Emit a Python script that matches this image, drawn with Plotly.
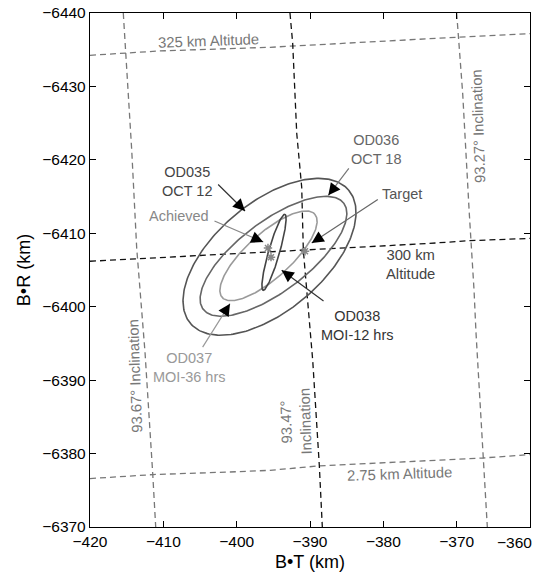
import numpy as np
import plotly.graph_objects as go

# ---- B-plane reference grid (km) ----
alt325_x = [-420, -410.5, -395.45, -376.36, -370.0, -360]
alt325_y = [-6434.24, -6434.83, -6435.33, -6436.4, -6436.7, -6437.2]

alt300_x = [-420, -395.45, -390.95, -374.05, -368.2, -360]
alt300_y = [-6406.19, -6407.45, -6407.7, -6408.6, -6409.0, -6409.3]

alt275_x = [-420, -416.32, -411.41, -400.91, -395.45, -388.91, -377.32, -366.41, -360]
alt275_y = [-6376.59, -6376.81, -6377.14, -6377.49, -6377.72, -6378.31, -6378.85, -6379.4, -6379.86]

inc9367_x = [-415.46, -415.09, -414.31, -413.63, -413.18, -412.5, -411.45, -411.04]
inc9367_y = [-6440, -6434.24, -6421.3, -6407.96, -6402.24, -6393.83, -6377.31, -6370]

inc9347_x = [-392.73, -392.36, -391.81, -391.13, -390.91, -390.45, -389.63, -388.73, -388.32]
inc9347_y = [-6440, -6435.87, -6423.62, -6416.26, -6407.68, -6402.64, -6392.7, -6378.4, -6370]

inc9327_x = [-370.0, -369.78, -369.18, -368.28, -368.05, -367.63, -367.36, -366.37, -365.82]
inc9327_y = [-6440, -6436.69, -6429.06, -6412.72, -6409.04, -6402.24, -6396.38, -6379.49, -6370]

# ---- orbit determination solutions: centre, semi-axes (km), orientation (deg) ----
od_names = ["OD035", "OD036", "OD037", "OD038"]
od_cx = [-395.52, -394.98, -395.66, -394.91]
od_cy = [-6406.8, -6406.87, -6406.93, -6407.41]
od_a = [14.1, 12.0, 8.49, 5.38]
od_b = [7.38, 4.77, 3.04, 0.75]
od_angle = [-40.0, -37.0, -42.0, -74.0]
od_color = ["#555555", "#666666", "#9a9a9a", "#444444"]

target_x, target_y = [-390.68], [-6407.55]
achieved_x = [-395.73, -395.32]
achieved_y = [-6407.99, -6406.75]

x_ticks = [-420, -410, -400, -390, -380, -370, -360]
y_ticks = [-6440, -6430, -6420, -6410, -6400, -6390, -6380, -6370]

fig = go.Figure()

def grid_line(x, y, color):
    fig.add_trace(go.Scatter(x=x, y=y, mode="lines", hoverinfo="skip",
                             line=dict(color=color, width=1.3, dash="6px,4px")))

grid_line(alt325_x, alt325_y, "#777777")
grid_line(alt275_x, alt275_y, "#777777")
grid_line(inc9367_x, inc9367_y, "#777777")
grid_line(inc9327_x, inc9327_y, "#777777")
grid_line(alt300_x, alt300_y, "#111111")
grid_line(inc9347_x, inc9347_y, "#111111")

t = np.linspace(0, 2 * np.pi, 240)
for name, cx, cy, a, b, ang, col in zip(od_names, od_cx, od_cy, od_a, od_b, od_angle, od_color):
    p = np.radians(ang)
    ex = cx + a * np.cos(t) * np.cos(p) - b * np.sin(t) * np.sin(p)
    ey = cy + a * np.cos(t) * np.sin(p) + b * np.sin(t) * np.cos(p)
    fig.add_trace(go.Scatter(x=ex, y=ey, mode="lines", name=name,
                             line=dict(color=col, width=1.6)))

star = dict(symbol="asterisk-open", size=7, color="#888888",
            line=dict(color="#888888", width=1.5))
fig.add_trace(go.Scatter(x=achieved_x, y=achieved_y, mode="markers", name="Achieved", marker=star))
fig.add_trace(go.Scatter(x=target_x, y=target_y, mode="markers", name="Target", marker=star))

FONT = "Liberation Sans, Arial, Helvetica, sans-serif"

# grid labels
grid_labels = [
    ("325 km Altitude", -403.9, -6436.15, -2, "#777777"),
    ("93.27° Inclination", -367.0, -6424.57, -92, "#777777"),
    ("300 km<br>Altitude", -376.26, -6405.78, 0, "#444444"),
    ("93.67° Inclination", -413.8, -6390.66, -92, "#777777"),
    ("93.47°<br>Inclination", -391.9, -6384.33, -92, "#777777"),
    ("2.75 km Altitude", -377.73, -6377.27, -2, "#777777"),
]
for txt, x, y, ang, col in grid_labels:
    fig.add_annotation(x=x, y=y, text=txt, showarrow=False, textangle=ang,
                       font=dict(family=FONT, size=14.8, color=col))

# callouts: text, text position, arrow start, arrow tip, text colour, line colour
callouts = [
    ("OD035<br>OCT 12", -406.77, -6417.0, -402.73, -6416.85, -398.86, -6413.04, "#444444", "#333333"),
    ("OD036<br>OCT 18", -380.93, -6421.43, -384.55, -6419.03, -387.5, -6415.17, "#666666", "#777777"),
    ("Achieved", -407.9, -6412.38, -403.23, -6411.77, -396.37, -6408.81, "#888888", "#888888"),
    ("Target", -377.39, -6415.31, -380.55, -6414.72, -389.77, -6408.68, "#555555", "#666666"),
    ("OD038<br>MOI-12 hrs", -383.48, -6397.47, -387.95, -6400.64, -393.86, -6404.96, "#333333", "#333333"),
    ("OD037<br>MOI-36 hrs", -406.43, -6391.71, -404.77, -6394.3, -400.91, -6400.42, "#999999", "#999999"),
]
for txt, tx, ty, sx, sy, hx, hy, tcol, lcol in callouts:
    fig.add_annotation(x=tx, y=ty, text=txt, showarrow=False,
                       font=dict(family=FONT, size=14.5, color=tcol))
    fig.add_annotation(x=hx, y=hy, ax=sx, ay=sy, axref="x", ayref="y", text="",
                       showarrow=True, arrowhead=0, arrowwidth=1.2, arrowcolor=lcol)
    # solid black head at the tip
    d = np.hypot(hx - sx, hy - sy)
    bx = hx - (hx - sx) / d * 1.2
    by = hy - (hy - sy) / d * 1.2
    fig.add_annotation(x=hx, y=hy, ax=bx, ay=by, axref="x", ayref="y", text="",
                       showarrow=True, arrowhead=2, arrowsize=2.0, arrowwidth=1.2,
                       arrowcolor="#000000")

tick_font = dict(family=FONT, size=15.5, color="#000000")
axis_common = dict(showgrid=False, zeroline=False, showline=True, linecolor="#000000",
                   linewidth=1.3, mirror="ticks", ticks="inside", ticklen=6,
                   tickcolor="#000000", tickwidth=1.2, tickfont=tick_font,
                   automargin=False)

# last x tick label sits against the right edge of the page
fig.update_xaxes(range=[-420, -360], tickvals=x_ticks,
                 ticktext=["\u2212" + str(abs(v)) for v in x_ticks[:-1]] + [""],
                 title=dict(text="B•T (km)", font=dict(family=FONT, size=18, color="#000000"),
                            standoff=13),
                 **axis_common)
fig.add_annotation(x=x_ticks[-1], y=0, xref="x", yref="paper", xanchor="right", yanchor="top",
                   xshift=4, yshift=-5, showarrow=False,
                   text="\u2212" + str(abs(x_ticks[-1])), font=tick_font)
fig.update_yaxes(range=[-6370, -6440], tickvals=y_ticks,
                 title=dict(text="B•R (km)", font=dict(family=FONT, size=18, color="#000000"),
                            standoff=6),
                 **axis_common)

fig.update_layout(width=539, height=572, showlegend=False,
                  margin=dict(l=90, r=9, t=13, b=45),
                  paper_bgcolor="#ffffff", plot_bgcolor="#ffffff")

fig.write_html("out.html")
